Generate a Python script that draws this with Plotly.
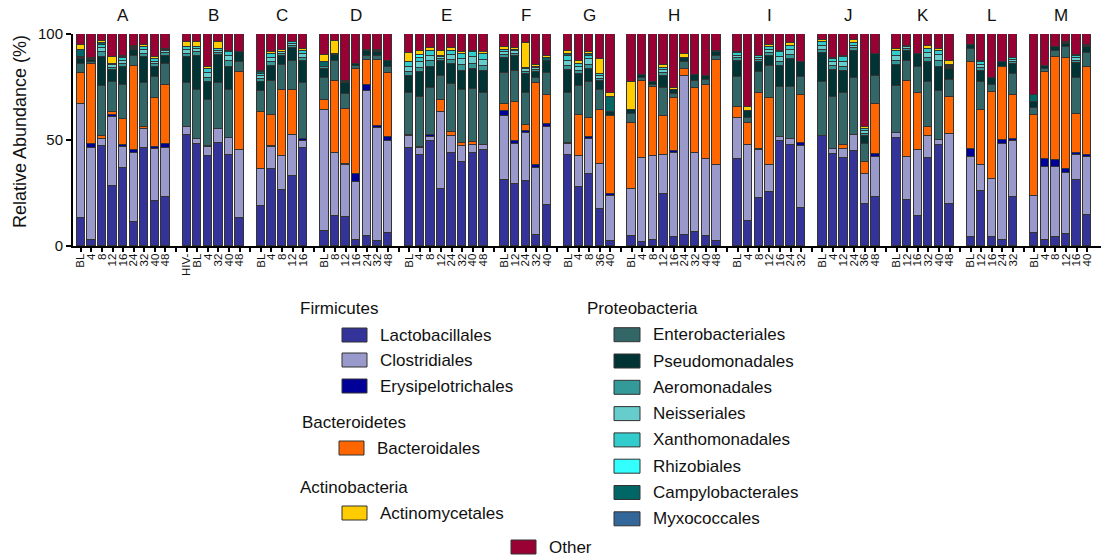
import plotly.graph_objects as go

# ---------------- data ----------------
groups = ["A", "B", "C", "D", "E", "F", "G", "H", "I", "J", "K", "L", "M"]
group_labels = [
    ["BL", "4", "8", "12", "16", "24", "32", "40", "48"],
    ["HIV-", "BL", "4", "32", "40", "48"],
    ["BL", "4", "8", "12", "16"],
    ["BL", "8", "12", "16", "24", "32", "48"],
    ["BL", "4", "8", "12", "24", "32", "40", "48"],
    ["BL", "12", "24", "32", "40"],
    ["BL", "4", "8", "36", "40"],
    ["BL", "4", "8", "12", "16", "24", "32", "40", "48"],
    ["BL", "4", "8", "12", "16", "24", "32"],
    ["BL", "4", "12", "24", "36", "48"],
    ["BL", "12", "16", "32", "40", "48"],
    ["BL", "12", "16", "24", "32"],
    ["BL", "4", "8", "12", "16", "40"],
]

# one row per group (A..M)
lactobacillales = [
    13.4, 2.8, 47.2, 28.3, 37.0, 11.3, 46.1, 21.3, 23.1,
    52.4, 48.0, 42.5, 48.5, 43.0, 13.4,
    18.9, 36.2, 26.5, 33.1, 46.1,
    7.1, 14.2, 13.7, 2.7, 4.7, 2.4, 6.0,
    46.1, 42.8, 49.3, 26.8, 44.1, 39.8, 43.8, 45.2,
    31.0, 29.4, 30.7, 5.0, 19.4,
    43.0, 27.6, 33.9, 17.6, 2.4,
    4.7, 2.0, 2.8, 24.4, 4.3, 5.2, 6.6, 4.7, 2.4,
    40.9, 11.8, 22.8, 25.7, 49.3, 47.7, 17.8,
    52.0, 43.3, 41.4, 44.9, 19.7, 23.1,
    50.9, 21.6, 14.2, 41.4, 47.7, 19.7,
    4.3, 26.0, 4.3, 2.8, 23.1,
    6.3, 2.7, 4.4, 5.8, 31.0, 14.6,
]
clostridiales = [
    53.8, 43.2, 3.5, 32.7, 9.5, 32.8, 9.0, 24.4, 22.9,
    3.5, 2.4, 4.0, 6.6, 7.9, 32.1,
    17.6, 10.7, 15.9, 19.3, 3.2,
    57.0, 29.6, 24.6, 27.7, 68.2, 53.2, 43.6,
    5.9, 3.2, 2.2, 36.2, 7.9, 7.4, 3.8, 2.5,
    30.4, 18.6, 22.5, 32.0, 36.8,
    5.0, 14.9, 16.5, 21.0, 21.2,
    22.4, 39.3, 39.6, 18.4, 39.8, 75.1, 37.5, 36.2, 35.7,
    19.7, 35.9, 22.4, 12.4, 2.2, 2.7, 29.4,
    0.0, 2.4, 4.3, 7.5, 14.2, 19.1,
    2.6, 20.6, 31.2, 10.6, 2.2, 33.1,
    37.9, 12.3, 27.2, 45.2, 26.5,
    17.3, 34.6, 33.1, 28.8, 12.0, 27.6,
]
erysipelotrichales = [
    0.0, 2.0, 0.0, 0.8, 1.3, 1.1, 0.0, 0.8, 2.0,
    0.0, 0.0, 0.0, 0.0, 0.0, 0.0,
    0.0, 0.5, 0.0, 0.0, 1.1,
    0.0, 0.0, 0.5, 3.8, 3.0, 1.1, 1.6,
    0.0, 0.8, 0.8, 0.0, 0.0, 0.0, 0.0, 0.0,
    2.4, 1.6, 1.1, 1.1, 1.3,
    0.5, 0.0, 1.1, 0.0, 0.8,
    0.0, 0.0, 0.0, 0.0, 0.8, 0.0, 0.0, 0.0, 0.0,
    0.0, 0.0, 0.5, 0.0, 0.0, 0.0, 1.6,
    0.0, 0.0, 0.0, 0.0, 0.0, 1.4,
    0.0, 0.0, 0.0, 0.0, 0.0, 0.0,
    3.5, 0.0, 0.0, 1.9, 1.1,
    0.0, 3.6, 3.0, 1.6, 1.1, 0.8,
]
bacteroidales = [
    14.2, 37.8, 1.4, 1.4, 12.2, 39.5, 1.1, 23.1, 28.1,
    0.0, 0.3, 0.5, 0.3, 0.0, 36.7,
    26.5, 14.3, 31.1, 21.1, 0.0,
    4.7, 34.0, 25.8, 49.3, 12.0, 31.0, 30.2,
    0.5, 0.0, 0.0, 5.8, 2.0, 1.6, 1.5, 0.0,
    3.4, 18.1, 2.9, 38.6, 13.7,
    0.0, 19.4, 8.8, 25.5, 36.7,
    30.9, 36.7, 32.4, 18.3, 24.9, 3.2, 30.4, 35.2, 49.6,
    4.8, 10.3, 26.4, 31.5, 0.0, 0.0, 22.4,
    0.0, 0.0, 2.0, 0.0, 5.5, 23.3,
    0.0, 35.8, 26.6, 3.9, 0.0, 17.3,
    41.2, 25.8, 41.3, 34.7, 20.5,
    38.3, 41.3, 48.8, 52.5, 18.4, 41.3,
]
enterobacteriales = [
    4.4, 1.2, 23.5, 14.0, 15.8, 5.0, 20.5, 10.2, 9.7,
    20.8, 22.8, 22.0, 21.3, 22.6, 4.7,
    9.9, 15.9, 11.9, 13.6, 26.3,
    10.3, 9.6, 7.1, 1.4, 1.9, 2.1, 2.9,
    19.5, 23.3, 22.2, 11.5, 22.4, 24.7, 24.9, 24.3,
    14.2, 14.7, 15.2, 2.5, 10.2,
    23.6, 13.7, 16.9, 9.4, 0.0,
    4.2, 1.2, 1.3, 13.4, 1.9, 3.1, 3.1, 2.3, 2.1,
    14.4, 2.6, 9.8, 15.1, 23.3, 24.4, 8.3,
    25.2, 24.7, 24.7, 26.7, 8.6, 13.4,
    21.8, 9.1, 12.3, 21.3, 23.0, 8.3,
    6.0, 13.1, 3.3, 0.0, 9.9,
    3.1, 1.4, 2.5, 5.0, 16.7, 6.6,
]
pseudomonadales = [
    2.4, 0.8, 13.7, 6.0, 8.7, 2.7, 12.6, 4.8, 4.0,
    12.6, 15.9, 8.2, 13.5, 11.1, 4.4,
    4.3, 7.1, 4.4, 6.3, 10.4,
    4.4, 2.7, 5.0, 1.0, 2.0, 1.6, 2.9,
    8.3, 11.8, 10.1, 7.1, 9.4, 9.2, 9.5, 10.4,
    7.3, 7.4, 8.7, 2.7, 6.0,
    10.9, 5.5, 6.3, 4.5, 1.9,
    2.1, 1.6, 1.4, 5.8, 1.8, 2.1, 3.0, 1.9, 1.5,
    7.6, 3.2, 4.7, 5.1, 10.2, 13.4, 7.1,
    13.8, 12.5, 10.0, 13.0, 4.0, 10.3,
    10.2, 5.0, 6.3, 9.4, 11.7, 5.1,
    2.0, 5.5, 3.1, 2.0, 4.7,
    2.7, 1.4, 1.9, 1.6, 6.9, 2.8,
]
aeromonadales = [
    0.5, 0.3, 2.0, 1.0, 1.5, 0.5, 1.5, 1.2, 1.2,
    1.5, 2.0, 2.0, 1.0, 2.5, 0.0,
    1.5, 2.0, 0.8, 1.0, 1.5,
    1.0, 0.5, 0.5, 0.0, 0.3, 0.5, 0.0,
    2.0, 2.0, 2.5, 1.0, 2.0, 2.5, 2.5, 2.5,
    1.5, 1.0, 1.0, 1.0, 0.0,
    2.0, 1.5, 2.0, 1.0, 0.0,
    0.0, 0.0, 0.0, 1.3, 0.0, 0.0, 0.0, 0.0, 0.0,
    1.2, 0.0, 1.0, 1.3, 2.0, 2.0, 0.0,
    1.5, 1.8, 2.0, 1.2, 1.0, 0.0,
    2.0, 0.8, 0.0, 2.0, 2.5, 0.5,
    0.0, 1.3, 0.0, 0.0, 1.0,
    0.0, 0.0, 0.0, 0.5, 1.2, 0.5,
]
neisseriales = [
    0.3, 0.3, 2.0, 1.0, 1.5, 0.5, 1.5, 1.2, 1.0,
    1.5, 1.5, 2.3, 1.0, 2.3, 0.0,
    1.5, 2.0, 0.7, 1.0, 2.0,
    0.0, 0.0, 0.5, 0.0, 0.3, 0.5, 0.0,
    2.3, 3.0, 2.5, 0.8, 2.3, 3.0, 3.0, 3.0,
    1.3, 1.0, 1.2, 1.0, 0.0,
    2.5, 1.7, 2.5, 1.2, 0.0,
    0.0, 0.0, 0.0, 1.3, 0.0, 0.0, 0.0, 0.0, 0.0,
    1.2, 0.0, 1.0, 1.5, 2.3, 2.3, 0.0,
    2.0, 2.0, 2.5, 1.2, 1.1, 0.0,
    2.3, 0.8, 0.0, 2.3, 2.8, 0.5,
    0.0, 1.3, 0.0, 0.0, 1.1,
    0.0, 0.0, 0.0, 0.3, 1.3, 0.5,
]
xanthomonadales = [
    0.0, 0.0, 1.5, 0.5, 1.2, 0.0, 1.4, 1.2, 0.5,
    1.4, 1.2, 2.0, 0.7, 2.0, 0.0,
    1.0, 1.8, 0.0, 0.7, 1.5,
    0.0, 0.0, 0.0, 0.0, 0.0, 0.0, 0.0,
    2.0, 2.0, 2.6, 0.6, 2.0, 2.4, 2.4, 2.7,
    1.0, 0.7, 0.9, 0.7, 0.0,
    2.0, 1.5, 1.6, 0.9, 0.0,
    0.0, 0.0, 0.0, 1.3, 0.0, 0.0, 0.0, 0.0, 0.0,
    1.1, 0.0, 1.0, 1.1, 2.0, 2.0, 0.0,
    1.5, 1.4, 2.1, 1.1, 1.0, 0.0,
    2.0, 0.8, 0.0, 2.0, 2.3, 0.5,
    0.0, 1.3, 0.0, 0.0, 1.0,
    0.0, 0.0, 0.0, 0.3, 1.1, 0.0,
]
rhizobiales = [
    0.0, 0.0, 0.0, 0.0, 0.5, 0.0, 0.0, 0.0, 0.0,
    0.0, 0.0, 0.0, 0.0, 0.0, 0.0,
    0.0, 0.0, 0.0, 0.0, 0.0,
    0.0, 0.0, 0.0, 0.0, 0.0, 0.0, 0.0,
    0.0, 1.3, 0.0, 0.0, 0.0, 0.0, 0.0, 0.0,
    0.0, 0.0, 0.0, 0.0, 0.0,
    0.0, 0.0, 0.0, 0.0, 0.0,
    0.0, 0.0, 0.0, 0.0, 0.0, 0.0, 0.0, 0.0, 0.0,
    0.0, 0.0, 0.0, 0.0, 0.0, 0.0, 0.0,
    0.0, 0.0, 0.0, 0.0, 0.0, 0.0,
    0.0, 0.0, 0.0, 0.0, 0.0, 0.0,
    0.0, 0.0, 0.0, 0.0, 0.0,
    0.0, 0.0, 0.0, 0.0, 0.0, 0.0,
]
campylobacterales = [
    3.5, 0.0, 1.0, 0.0, 0.0, 0.6, 0.0, 0.0, 0.5,
    0.0, 0.0, 0.0, 0.0, 0.0, 0.0,
    0.7, 0.0, 0.0, 0.0, 0.0,
    2.1, 0.0, 0.0, 0.0, 0.0, 0.0, 0.0,
    0.0, 0.0, 0.0, 0.0, 0.0, 0.0, 0.0, 0.0,
    0.0, 0.0, 0.0, 0.0, 1.5,
    1.1, 0.0, 1.0, 0.0, 7.1,
    0.0, 0.0, 0.0, 0.0, 0.0, 0.0, 0.0, 0.0, 0.0,
    0.0, 0.0, 0.0, 0.0, 0.0, 0.0, 0.0,
    0.0, 0.0, 0.0, 0.0, 0.0, 0.0,
    0.0, 0.0, 0.0, 0.0, 0.0, 0.5,
    0.0, 0.0, 0.0, 0.0, 0.0,
    3.5, 0.0, 0.0, 0.0, 0.0, 0.0,
]
myxococcales = [0.0] * 84
actinomycetales = [
    2.3, 0.3, 1.0, 3.5, 0.5, 0.5, 1.1, 1.0, 0.0,
    2.4, 2.0, 0.8, 3.5, 0.5, 0.0,
    0.8, 1.0, 1.0, 0.0, 0.8,
    3.6, 6.3, 0.0, 0.0, 0.0, 0.0, 0.0,
    4.4, 1.6, 1.1, 2.4, 1.3, 1.0, 0.8, 1.0,
    1.6, 0.8, 11.5, 0.8, 0.8,
    1.3, 1.6, 0.8, 7.1, 2.0,
    12.9, 0.0, 0.0, 1.1, 0.8, 1.9, 0.0, 0.0, 0.8,
    0.8, 1.6, 0.0, 1.3, 0.8, 1.3, 0.0,
    1.1, 0.8, 0.5, 1.6, 0.8, 0.0,
    1.1, 0.0, 0.0, 1.6, 0.8, 1.6,
    0.0, 0.8, 0.0, 0.0, 0.0,
    0.0, 0.0, 0.0, 0.0, 0.5, 0.0,
]
other = [
    5.2, 11.3, 3.2, 10.8, 10.3, 5.5, 5.2, 10.8, 7.0,
    3.9, 3.9, 15.7, 3.6, 8.1, 8.7,
    17.3, 8.5, 7.7, 3.9, 7.1,
    9.8, 3.1, 22.3, 14.1, 7.6, 7.6, 12.8,
    9.0, 8.2, 6.7, 7.8, 6.6, 8.4, 7.8, 8.4,
    5.9, 6.7, 4.3, 14.6, 10.3,
    8.1, 12.6, 8.6, 11.8, 27.9,
    22.8, 19.2, 22.5, 14.7, 25.7, 9.4, 19.4, 19.7, 7.9,
    8.3, 34.6, 10.4, 5.0, 7.9, 4.2, 13.4,
    2.9, 11.1, 10.5, 2.8, 44.1, 9.4,
    7.1, 5.5, 9.4, 5.5, 7.0, 12.9,
    5.1, 12.6, 20.8, 13.4, 11.1,
    28.8, 15.0, 6.3, 3.6, 9.8, 5.3,
]

series_names = [
    "Lactobacillales", "Clostridiales", "Erysipelotrichales", "Bacteroidales",
    "Enterobacteriales", "Pseudomonadales", "Aeromonadales", "Neisseriales",
    "Xanthomonadales", "Rhizobiales", "Campylobacterales", "Myxococcales",
    "Actinomycetales", "Other",
]
series_values = [
    lactobacillales, clostridiales, erysipelotrichales, bacteroidales,
    enterobacteriales, pseudomonadales, aeromonadales, neisseriales,
    xanthomonadales, rhizobiales, campylobacterales, myxococcales,
    actinomycetales, other,
]
series_colors = [
    "#333399", "#9999CC", "#000099", "#FF6600",
    "#336666", "#003333", "#339999", "#66CCCC",
    "#33CCCC", "#33FFFF", "#006666", "#336699",
    "#FFCC00", "#990033",
]

# legend structure
legend_left = [
    ("Firmicutes", ["Lactobacillales", "Clostridiales", "Erysipelotrichales"]),
    ("Bacteroidetes", ["Bacteroidales"]),
    ("Actinobacteria", ["Actinomycetales"]),
]
legend_right = [
    ("Proteobacteria", ["Enterobacteriales", "Pseudomonadales", "Aeromonadales",
                        "Neisseriales", "Xanthomonadales", "Rhizobiales",
                        "Campylobacterales", "Myxococcales"]),
]

# ---------------- layout helpers ----------------
FONT = "Arial, 'Liberation Sans', sans-serif"
W, H = 1104, 559
ML, MR, MT, MB = 73, 3, 34, 313
PW, PH = W - ML - MR, H - MT - MB

def px(x):
    return (x - ML) / PW

def py(y):
    return (MT + PH - y) / PH

# x positions: one empty slot between groups
xpos, tickvals, ticktext, centers = [], [], [], []
slot = 0
for gi, labs in enumerate(group_labels):
    start = slot
    for lab in labs:
        xpos.append(slot)
        tickvals.append(slot)
        ticktext.append(lab)
        slot += 1
    centers.append((start + slot - 1) / 2)
    if gi < len(group_labels) - 1:
        tickvals.append(slot)
        ticktext.append("")
        slot += 1
last = slot - 1

fig = go.Figure()
for name, vals, col in zip(series_names, series_values, series_colors):
    fig.add_trace(go.Bar(
        x=xpos, y=[v if v > 0 else None for v in vals], name=name,
        marker=dict(color=col, line=dict(color="#333333", width=1)),
        width=0.79, cliponaxis=False, showlegend=False,
    ))

annotations = []
for g, c in zip(groups, centers):
    annotations.append(dict(x=c, y=py(16), xref="x", yref="paper", text=g,
                            showarrow=False, font=dict(size=17, color="#111"),
                            xanchor="center", yanchor="middle"))
annotations.append(dict(x=px(20), y=py(132), xref="paper", yref="paper",
                        text="Relative Abundance (%)", textangle=-90,
                        showarrow=False, font=dict(size=18, color="#111"),
                        xanchor="center", yanchor="middle"))

shapes = []
color_of = dict(zip(series_names, series_colors))

def legend_item(name, x0, yc, sw=25, sh=14):
    shapes.append(dict(type="rect", xref="paper", yref="paper",
                       x0=px(x0), x1=px(x0 + sw), y0=py(yc + sh / 2), y1=py(yc - sh / 2),
                       fillcolor=color_of[name], line=dict(color="#333333", width=1)))
    annotations.append(dict(x=px(x0 + sw + 11), y=py(yc), xref="paper", yref="paper",
                            text=name, showarrow=False, font=dict(size=17, color="#111"),
                            xanchor="left", yanchor="middle"))

def header(text, x0, yc):
    annotations.append(dict(x=px(x0), y=py(yc), xref="paper", yref="paper",
                            text=text, showarrow=False, font=dict(size=17, color="#111"),
                            xanchor="left", yanchor="middle"))

# left column
left_headers = [(298, 308), (300, 422), (298, 487)]
left_items = [[(342, 335), (342, 360), (342, 386)], [(339, 448)], [(342, 513)]]
for (title, names), (hx, hy), items in zip(legend_left, left_headers, left_items):
    header(title, hx, hy)
    for n, (ix, iy) in zip(names, items):
        legend_item(n, ix, iy)

# right column
for title, names in legend_right:
    header(title, 585, 308)
    for i, n in enumerate(names):
        legend_item(n, 614, 334.7 + 26.3 * i, sw=26)

legend_item("Other", 511, 547)

fig.update_layout(
    width=W, height=H, autosize=False,
    margin=dict(l=ML, r=MR, t=MT, b=MB, pad=0),
    paper_bgcolor="white", plot_bgcolor="white",
    barmode="stack", bargap=0,
    font=dict(family=FONT, color="#111"),
    annotations=annotations, shapes=shapes,
    showlegend=False,
)
fig.update_xaxes(
    range=[-0.73, last + 1.3], tickmode="array", tickvals=tickvals, ticktext=ticktext,
    tickangle=-90, tickfont=dict(size=11.5, color="#111"),
    showline=True, linecolor="black", linewidth=2,
    ticks="outside", ticklen=4, tickwidth=1.5, tickcolor="black",
    ticklabelstandoff=-3,
    showgrid=False, zeroline=False, automargin=False,
)
fig.update_yaxes(
    range=[0, 100], tickvals=[0, 50, 100], tickfont=dict(size=15, color="#111"),
    showline=True, linecolor="black", linewidth=2,
    ticks="outside", ticklen=5, tickwidth=2, tickcolor="black",
    showgrid=False, zeroline=False, automargin=False,
)

fig.write_html("out.html")
